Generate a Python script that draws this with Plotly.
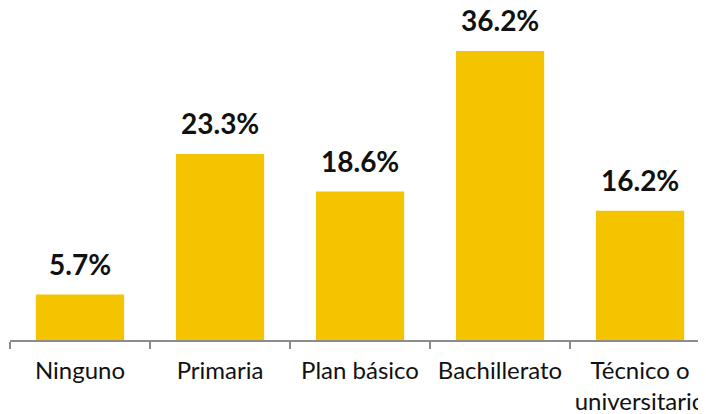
import plotly.graph_objects as go

categories = ["Ninguno", "Primaria", "Plan básico", "Bachillerato", "Técnico o<br>universitario"]
values = [5.7, 23.3, 18.6, 36.2, 16.2]
labels = [f"{v:.1f}%" for v in values]

fig = go.Figure(go.Bar(
    x=categories,
    y=values,
    marker=dict(color="#F5C400", line=dict(width=0)),
    cliponaxis=False,
))

# value labels above the bars
for cat, val, lab in zip(categories, values, labels):
    fig.add_annotation(
        x=cat, y=val, text=lab, showarrow=False,
        yanchor="bottom", yshift=15, height=28, valign="middle",
        font=dict(family="Lato", size=28, color="#111111", weight="bold"),
    )

# page body adds 8px, so the figure is a bit smaller than the window
fig.update_layout(
    width=698, height=406,
    margin=dict(l=2, r=0, t=12, b=74, autoexpand=False),
    plot_bgcolor="white", paper_bgcolor="white",
    bargap=0.37,
    showlegend=False,
    font=dict(family="Lato", color="#111111"),
)
fig.update_xaxes(
    range=[-0.5, 4.471],
    automargin=False,
    showline=True, linecolor="#8c8c8c", linewidth=2,
    ticks="outside", tickson="boundaries", ticklen=7, tickcolor="#8c8c8c", tickwidth=2,
    ticklabelstandoff=8,
    tickfont=dict(family="Lato", size=24, color="#111111"),
    showgrid=False,
)
fig.update_yaxes(range=[0, 40.1], visible=False)

fig.write_html("out.html")
